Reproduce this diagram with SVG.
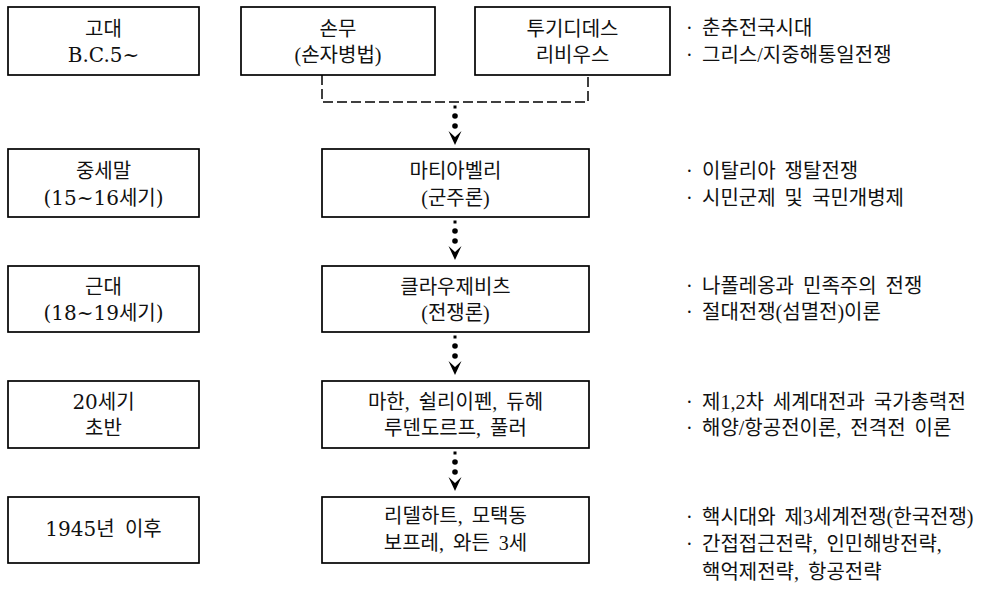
<svg xmlns="http://www.w3.org/2000/svg" width="997" height="598" viewBox="0 0 997 598">
<style>
  .box { fill: #fff; stroke: #000; stroke-width: 1.7; }
  text { font-family: "Liberation Serif", "Noto Sans CJK KR", serif; font-size: 20px; fill: #111; word-spacing: 4px; }
  .era { font-family: "DejaVu Serif", "Noto Sans CJK KR", serif; }
  .c { text-anchor: middle; }
  .dash { fill: none; stroke: #000; stroke-width: 1.5; stroke-dasharray: 10 4; }
</style>
<defs>
  <g id="dotArrow">
    <rect x="-1.5" y="3.5" width="3" height="3" fill="#000"/>
    <circle cx="0" cy="14" r="2.8" fill="#000"/>
    <circle cx="0" cy="24" r="2.8" fill="#000"/>
    <polygon points="-6.5,29 0,35 6.5,29 0,43" fill="#000"/>
  </g>
</defs>
<rect width="997" height="598" fill="#fff"/>

<g id="era1"><rect class="box" x="8" y="7" width="191" height="68"/><text class="c era" x="103.5" y="36">고대</text><text class="c era" x="103.5" y="62">B.C.5~</text></g>
<g id="era2"><rect class="box" x="8" y="149" width="191" height="68"/><text class="c era" x="103.5" y="178">중세말</text><text class="c era" x="103.5" y="205">(15~16세기)</text></g>
<g id="era3"><rect class="box" x="8" y="266" width="191" height="66"/><text class="c era" x="103.5" y="294">근대</text><text class="c era" x="103.5" y="320">(18~19세기)</text></g>
<g id="era4"><rect class="box" x="8" y="381" width="191" height="67"/><text class="c era" x="103.5" y="409">20세기</text><text class="c era" x="103.5" y="435">초반</text></g>
<g id="era5"><rect class="box" x="8" y="497" width="191" height="66"/><text class="c era" x="103.5" y="536">1945년 이후</text></g>

<g id="sunzi"><rect class="box" x="241" y="7" width="194" height="68"/><text class="c" x="338" y="36">손무</text><text class="c" x="338" y="62">(손자병법)</text></g>
<g id="thucydides"><rect class="box" x="475" y="7" width="195" height="68"/><text class="c" x="572.5" y="36">투기디데스</text><text class="c" x="572.5" y="62">리비우스</text></g>
<g id="machiavelli"><rect class="box" x="322" y="149" width="267" height="68"/><text class="c" x="455.5" y="178">마티아벨리</text><text class="c" x="455.5" y="205">(군주론)</text></g>
<g id="clausewitz"><rect class="box" x="322" y="266" width="267" height="66"/><text class="c" x="455.5" y="294">클라우제비츠</text><text class="c" x="455.5" y="320">(전쟁론)</text></g>
<g id="mahan"><rect class="box" x="322" y="381" width="267" height="67"/><text class="c" x="455.5" y="409">마한, 쉴리이펜, 듀헤</text><text class="c" x="455.5" y="435">루덴도르프, 풀러</text></g>
<g id="liddellhart"><rect class="box" x="322" y="497" width="267" height="66"/><text class="c" x="455.5" y="523">리델하트, 모택동</text><text class="c" x="455.5" y="550">보프레, 와든 3세</text></g>

<g id="notes1"><text x="686" y="35">·</text><text x="702" y="35">춘추전국시대</text><text x="686" y="62">·</text><text x="702" y="62">그리스/지중해통일전쟁</text></g>
<g id="notes2"><text x="686" y="178">·</text><text x="702" y="178">이탈리아 쟁탈전쟁</text><text x="686" y="205">·</text><text x="702" y="205">시민군제 및 국민개병제</text></g>
<g id="notes3"><text x="686" y="293">·</text><text x="702" y="293">나폴레옹과 민족주의 전쟁</text><text x="686" y="319">·</text><text x="702" y="319">절대전쟁(섬멸전)이론</text></g>
<g id="notes4"><text x="686" y="409">·</text><text x="702" y="409">제1,2차 세계대전과 국가총력전</text><text x="686" y="435">·</text><text x="702" y="435">해양/항공전이론, 전격전 이론</text></g>
<g id="notes5"><text x="686" y="524">·</text><text x="702" y="524">핵시대와 제3세계전쟁(한국전쟁)</text><text x="686" y="551">·</text><text x="702" y="551">간접접근전략, 인민해방전략,</text><text x="702" y="579">핵억제전략, 항공전략</text></g>

<g id="connectors">
  <path class="dash" d="M322,75 V102 H588 V75"/>
  <use href="#dotArrow" transform="translate(455,102)"/>
  <use href="#dotArrow" transform="translate(455,217)"/>
  <use href="#dotArrow" transform="translate(455,332)"/>
  <use href="#dotArrow" transform="translate(455,448)"/>
</g>
</svg>
